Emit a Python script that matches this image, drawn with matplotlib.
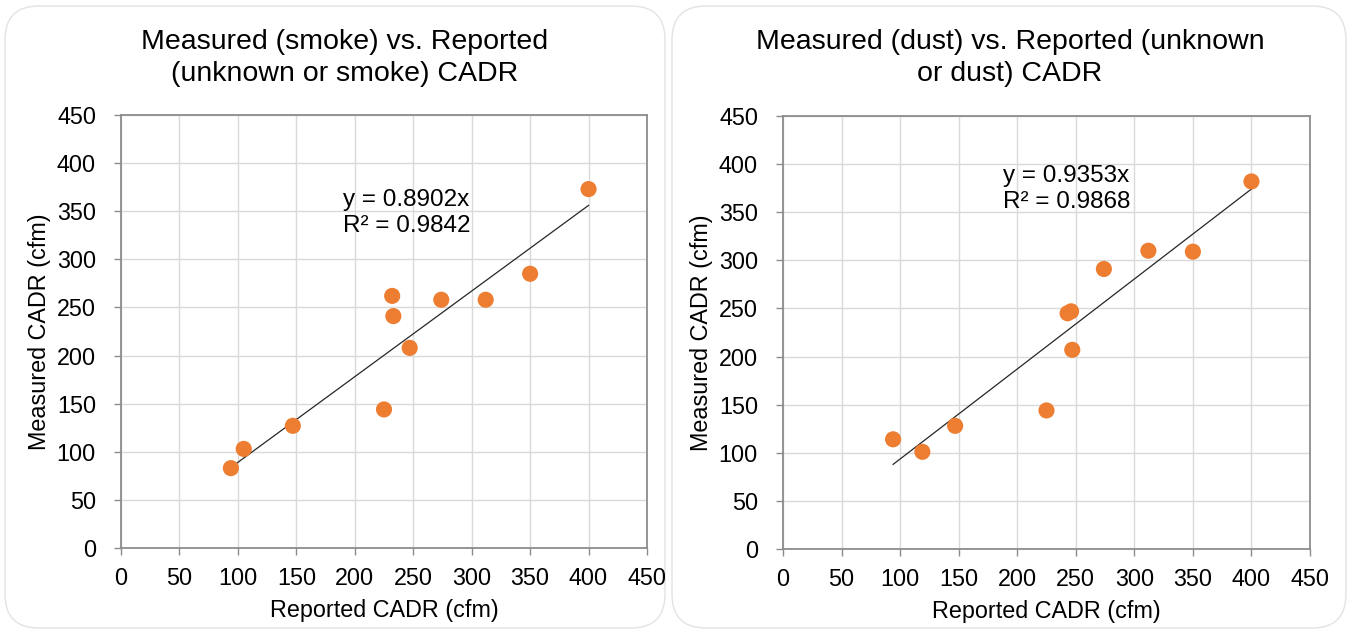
"""Measured vs. reported CADR scatter plots (smoke and dust)."""

import matplotlib.pyplot as plt
import numpy as np
from matplotlib.patches import FancyBboxPatch

plt.rcParams["font.family"] = ["Liberation Sans", "DejaVu Sans"]

# smoke panel
smoke_reported = [94, 105, 147, 225, 232, 233, 247, 274, 312, 350, 400]
smoke_measured = [83, 103, 127, 144, 262, 241, 208, 258, 258, 285, 373]
smoke_slope = 0.8902
smoke_r2 = 0.9842

# dust panel
dust_reported = [94, 119, 147, 225, 243, 246, 247, 274, 312, 350, 400]
dust_measured = [114, 101, 128, 144, 245, 247, 207, 291, 310, 309, 382]
dust_slope = 0.9353
dust_r2 = 0.9868

ticks = np.arange(0, 451, 50)

W, H = 1351, 638
fig = plt.figure(figsize=(W / 100, H / 100), dpi=100)
fig.patch.set_facecolor("white")

# rounded card outlines around each chart
for x0, x1 in [(5, 665), (672, 1346)]:
    card = FancyBboxPatch(
        (x0 / W, 10 / H), (x1 - x0) / W, (632 - 10) / H,
        boxstyle="round,pad=0,rounding_size=0.025",
        transform=fig.transFigure, facecolor="none",
        edgecolor="#e3e3e3", linewidth=1.0, zorder=-1,
        mutation_aspect=W / H,
    )
    fig.patches.append(card)

panels = [
    dict(left=121, right=647, top=115, bottom=548,
         x=smoke_reported, y=smoke_measured, slope=smoke_slope, r2=smoke_r2,
         title="Measured (smoke) vs. Reported\n(unknown or smoke) CADR",
         title_x=345, eq_xy=(190, 348)),
    dict(left=783, right=1310, top=116, bottom=549,
         x=dust_reported, y=dust_measured, slope=dust_slope, r2=dust_r2,
         title="Measured (dust) vs. Reported (unknown\nor dust) CADR",
         title_x=1010, eq_xy=(188, 374)),
]

for p in panels:
    ax = fig.add_axes([
        p["left"] / W, 1 - p["bottom"] / H,
        (p["right"] - p["left"]) / W, (p["bottom"] - p["top"]) / H,
    ])
    ax.patch.set_alpha(0)
    ax.set_xlim(0, 450)
    ax.set_ylim(0, 450)
    ax.set_xticks(ticks)
    ax.set_yticks(ticks)
    ax.grid(True, color="#d9d9d9", linewidth=1.0)
    ax.set_axisbelow(True)
    for spine in ax.spines.values():
        spine.set_color("#8c8c8c")
        spine.set_linewidth(1.3)
    ax.tick_params(direction="out", length=5, width=1.0, color="#8c8c8c",
                   labelsize=16.8)
    ax.tick_params(axis="x", pad=9)
    ax.tick_params(axis="y", pad=13)

    xs = np.array(p["x"], dtype=float)
    line_x = np.array([xs.min(), xs.max()])
    ax.plot(line_x, p["slope"] * line_x, color="#262626", linewidth=0.9,
            zorder=2)
    ax.scatter(p["x"], p["y"], s=135, color="#ed7d31", edgecolor="none",
               zorder=3)

    ax.text(p["eq_xy"][0], p["eq_xy"][1],
            f"y = {p['slope']:.4f}x\nR² = {p['r2']:.4f}",
            fontsize=17.5, va="center", ha="left", linespacing=1.25)

    ax.set_xlabel("Reported CADR (cfm)", fontsize=16.8, labelpad=6)
    ax.set_ylabel("Measured CADR (cfm)", fontsize=16.8, labelpad=4)

    fig.text(p["title_x"] / W, 1 - 58 / H, p["title"], fontsize=20.5,
             ha="center", va="center", linespacing=1.3)

fig.savefig("out.png", dpi=100)
